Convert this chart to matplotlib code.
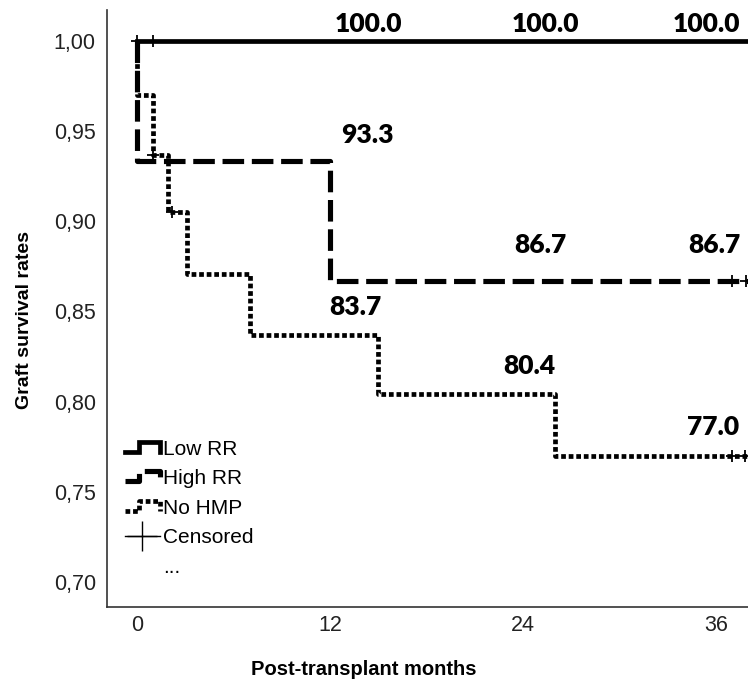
import matplotlib
matplotlib.use("Agg")
from matplotlib import pyplot as plt
from matplotlib.legend_handler import HandlerBase
from matplotlib.lines import Line2D

# survival curves (months, survival fraction)
low_t = [0, 38]
low_s = [1.0, 1.0]
low_cens_t = [0.0, 1.0]
low_cens_s = [1.0, 1.0]

high_t = [0, 0, 12, 12, 38]
high_s = [1.0, 0.9333, 0.9333, 0.8667, 0.8667]
high_cens_t = [37.0, 37.9]
high_cens_s = [0.8667, 0.8667]

nohmp_t = [0, 0, 1.0, 1.0, 1.9, 1.9, 3.1, 3.1, 7.0, 7.0, 15.0, 15.0, 26.0, 26.0, 38]
nohmp_s = [1.0, 0.970, 0.970, 0.937, 0.937, 0.905, 0.905, 0.871, 0.871, 0.837,
           0.837, 0.804, 0.804, 0.770, 0.770]
nohmp_cens_t = [1.0, 2.2, 37.0, 37.8]
nohmp_cens_s = [0.937, 0.905, 0.770, 0.770]

# rate labels
lab_x = [14.4, 25.4, 35.4, 14.3, 25.1, 35.9, 13.6, 24.4, 35.8]
lab_y = [1.0, 1.0, 1.0, 0.938, 0.877, 0.877, 0.843, 0.810, 0.776]
lab_txt = ["100.0", "100.0", "100.0", "93.3", "86.7", "86.7", "83.7", "80.4", "77.0"]

yticks = [0.70, 0.75, 0.80, 0.85, 0.90, 0.95, 1.00]
xticks = [0, 12, 24, 36]

narrow = ["Liberation Sans Narrow", "Liberation Sans", "DejaVu Sans"]
bold_num = ["Lato", "DejaVu Sans"]

LW = 3.4
styles = {
    "low": dict(color="black", lw=LW, linestyle="-", solid_joinstyle="miter"),
    "high": dict(color="black", lw=LW + 0.3, linestyle=(0, (4.2, 1.5))),
    "nohmp": dict(color="black", lw=LW, linestyle=(0, (1.0, 0.6))),
}


class StepHandler(HandlerBase):
    def create_artists(self, legend, orig_handle, xdescent, ydescent, width, height, fontsize, trans):
        w, h = width, height
        x0, y0 = -xdescent, -ydescent
        xs = [x0, x0 + 0.4 * w, x0 + 0.4 * w, x0 + w, x0 + w]
        ys = [y0 + 0.2 * h, y0 + 0.2 * h, y0 + 0.9 * h, y0 + 0.9 * h, y0 + 0.2 * h]
        ln = Line2D(xs, ys)
        ln.update_from(orig_handle)
        ln.set_transform(trans)
        return [ln]


fig = plt.figure(figsize=(7.48, 6.89), dpi=100)
ax = fig.add_axes([0.143, 0.119, 0.857, 0.867])

ax.plot(low_t, low_s, **styles["low"], zorder=4)
ax.plot(high_t, high_s, **styles["high"], zorder=3)
ax.plot(nohmp_t, nohmp_s, **styles["nohmp"], zorder=2)
cens = dict(marker="+", linestyle="none", color="black", markersize=9, mew=1.3, zorder=5)
ax.plot(low_cens_t, low_cens_s, **cens)
ax.plot(high_cens_t, high_cens_s, **cens)
ax.plot(nohmp_cens_t, nohmp_cens_s, **cens)

for x, y, t in zip(lab_x, lab_y, lab_txt):
    ax.text(x, y + 0.003, t, ha="center", va="bottom", fontsize=19,
            fontweight="heavy", family=bold_num)

ax.set_xlim(-1.87, 38.0)
ax.set_ylim(0.686, 1.0175)
ax.set_xticks(xticks)
ax.set_yticks(yticks)
ax.set_yticklabels([f"{v:.2f}".replace(".", ",") for v in yticks])
ax.tick_params(length=0, labelsize=15.5, colors="#222222")
ax.tick_params(axis="y", pad=8)
ax.tick_params(axis="x", pad=6)
for lbl in ax.get_xticklabels() + ax.get_yticklabels():
    lbl.set_family(narrow)

for side in ["top", "right"]:
    ax.spines[side].set_visible(False)
for side in ["left", "bottom"]:
    ax.spines[side].set_color("#333333")
    ax.spines[side].set_linewidth(1.2)

ax.set_xlabel("Post-transplant months", fontsize=14.5, fontweight="bold", family=narrow)
ax.set_ylabel("Graft survival rates", fontsize=14, fontweight="bold", family=narrow)
ax.xaxis.set_label_coords(0.40, -0.088)
ax.yaxis.set_label_coords(-0.115, 0.48)

h_low = Line2D([], [], **styles["low"])
h_high = Line2D([], [], **styles["high"])
h_no = Line2D([], [], **styles["nohmp"])
h_cens = Line2D([], [], marker="+", color="black", lw=1.0, markersize=22, mew=1.0)
h_dots = Line2D([], [], color="none")
leg = ax.legend([h_low, h_high, h_no, h_cens, h_dots],
                ["Low RR", "High RR", "No HMP", "Censored", "..."],
                handler_map={h_low: StepHandler(), h_high: StepHandler(), h_no: StepHandler()},
                loc="lower left", bbox_to_anchor=(0.008, 0.03), frameon=False,
                handlelength=1.7, handletextpad=0.15, labelspacing=0.5,
                prop={"family": narrow, "size": 15}, borderaxespad=0.2)

fig.savefig("out.png", dpi=100)
